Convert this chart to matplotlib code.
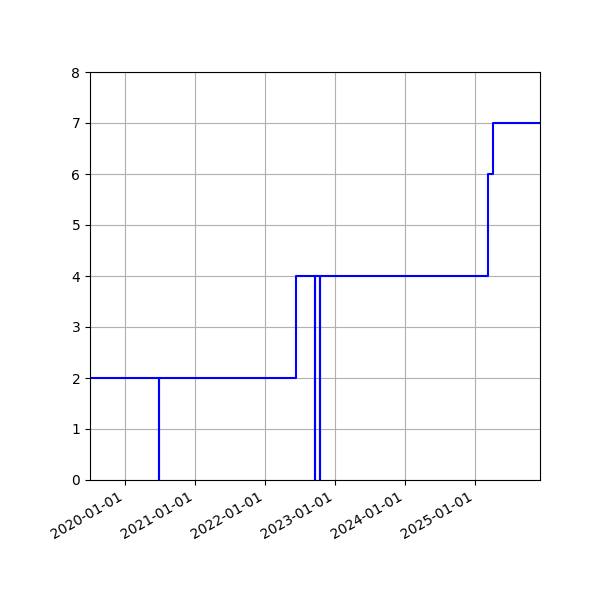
import matplotlib
matplotlib.use("Agg")
import matplotlib.pyplot as plt
import matplotlib.dates as mdates
import numpy as np

dates = ["2019-07-02", "2020-06-27", "2020-06-28", "2022-06-10", "2022-09-18",
         "2022-09-19", "2022-10-14", "2022-10-15", "2025-03-08", "2025-04-04",
         "2025-12-06"]
values = [2, 0, 2, 4, 0, 4, 0, 4, 6, 7, 7]

x = np.array(dates, dtype="datetime64[D]")

fig, ax = plt.subplots(figsize=(6, 6), dpi=100)
ax.step(x, values, where="post", color="blue", linewidth=1.5)
ax.set_xlim(x[0], x[-1])
ax.set_ylim(0, 8)
ax.grid(True)
ax.xaxis.set_major_locator(mdates.YearLocator())
ax.xaxis.set_major_formatter(mdates.DateFormatter("%Y-%m-%d"))
fig.autofmt_xdate()
fig.subplots_adjust(left=0.15, right=0.9, top=0.88, bottom=0.2)
fig.savefig("out.png", dpi=100)
